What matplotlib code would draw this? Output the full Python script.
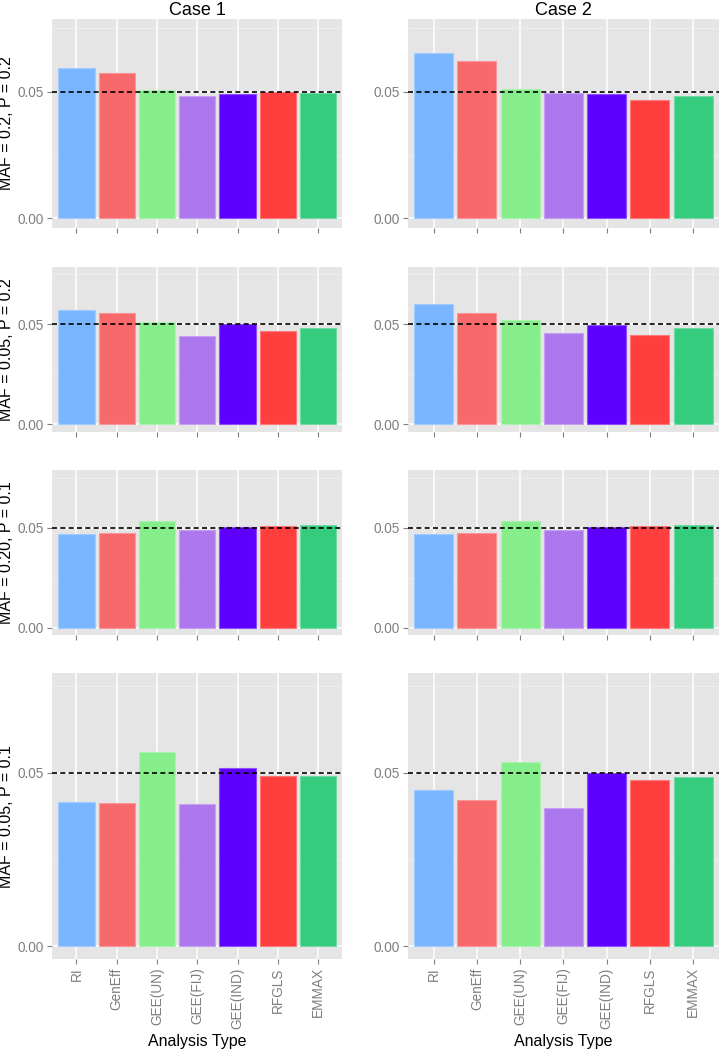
import matplotlib
matplotlib.use("Agg")
import matplotlib.pyplot as plt
from matplotlib.colors import to_rgb
import numpy as np

plt.rcParams['font.family'] = ['Liberation Sans', 'DejaVu Sans']

methods = ["RI", "GenEff", "GEE(UN)", "GEE(FIJ)", "GEE(IND)", "RFGLS", "EMMAX"]
colors = ["#7AB6FF", "#F8696B", "#85EE8A", "#AD77EE", "#5F00FF", "#FF3E3E", "#36CC7E"]
cases = ["Case 1", "Case 2"]
row_labels = ["MAF = 0.2, P = 0.2", "MAF = 0.05, P = 0.2",
              "MAF = 0.20, P = 0.1", "MAF = 0.05, P = 0.1"]

# Type I error rates: [row][case][method]
row1_case1 = [0.0594, 0.0576, 0.0506, 0.0485, 0.0493, 0.0500, 0.0496]
row1_case2 = [0.0654, 0.0622, 0.0512, 0.0497, 0.0491, 0.0469, 0.0482]
row2_case1 = [0.0569, 0.0555, 0.0510, 0.0443, 0.0500, 0.0465, 0.0481]
row2_case2 = [0.0600, 0.0557, 0.0520, 0.0458, 0.0497, 0.0446, 0.0481]
row3_case1 = [0.0468, 0.0472, 0.0532, 0.0490, 0.0503, 0.0507, 0.0512]
row3_case2 = [0.0468, 0.0472, 0.0532, 0.0490, 0.0503, 0.0507, 0.0512]
row4_case1 = [0.0417, 0.0414, 0.0561, 0.0410, 0.0514, 0.0492, 0.0492]
row4_case2 = [0.0451, 0.0422, 0.0533, 0.0400, 0.0501, 0.0479, 0.0487]
data = [[row1_case1, row1_case2], [row2_case1, row2_case2],
        [row3_case1, row3_case2], [row4_case1, row4_case2]]

alpha_level = 0.05
y_ticks = [0.0, 0.05]
y_tick_labels = ["0.00", "0.05"]
y_minor = [0.025, 0.075]

W, H = 719, 1050
fig = plt.figure(figsize=(W / 100, H / 100), dpi=100)

col_x = [(52.3, 342.3), (407.7, 719.0)]
row_y = [(19, 228), (266.7, 431.7), (470, 635), (673.3, 959.3)]

grey_txt = "#7F7F7F"
bg = "#E5E5E5"

def lighten(c, f=0.3):
    r, g, b = to_rgb(c)
    return (r + (1 - r) * f, g + (1 - g) * f, b + (1 - b) * f)

xpos = np.arange(len(methods))
for ri, (yt, yb) in enumerate(row_y):
    for ci, (xl, xr) in enumerate(col_x):
        ax = fig.add_axes([xl / W, 1 - yb / H, (xr - xl) / W, (yb - yt) / H])
        ax.set_facecolor(bg)
        for s in ax.spines.values():
            s.set_visible(False)
        vals = data[ri][ci]
        ax.bar(xpos, vals, width=0.9, color=colors,
               edgecolor=[lighten(c) for c in colors], linewidth=0.8, zorder=3)
        ax.axhline(alpha_level, color="black", lw=1.2,
                   linestyle=(0, (3.0, 2.0)), zorder=4)
        ax.set_xlim(-0.6, len(methods) - 0.4)
        ax.set_ylim(-0.00375, 0.07875)
        ax.set_yticks(y_ticks)
        ax.set_yticks(y_minor, minor=True)
        ax.set_yticklabels(y_tick_labels)
        ax.set_xticks(xpos)
        ax.grid(True, which="major", color="white", lw=1.1, zorder=1)
        ax.grid(True, which="minor", axis="y", color="#F2F2F2", lw=0.5, zorder=1)
        ax.tick_params(axis="both", which="major", length=3.3, width=0.8,
                       color=grey_txt, labelcolor=grey_txt, labelsize=9.8, pad=2.5)
        ax.tick_params(axis="y", which="minor", length=0)
        if ri == len(row_y) - 1:
            ax.set_xticklabels(methods, rotation=90, ha="center", va="top")
            ax.set_xlabel("Analysis Type", fontsize=11.5, labelpad=4)
        else:
            ax.set_xticklabels([])
        if ri == 0:
            ax.set_title(cases[ci], fontsize=13, pad=3)
        if ci == 0:
            ax.set_ylabel(row_labels[ri], fontsize=11.5, va="center")
            ax.yaxis.set_label_coords((6.5 - xl) / (xr - xl), 0.5)

fig.savefig("out.png", dpi=100)
